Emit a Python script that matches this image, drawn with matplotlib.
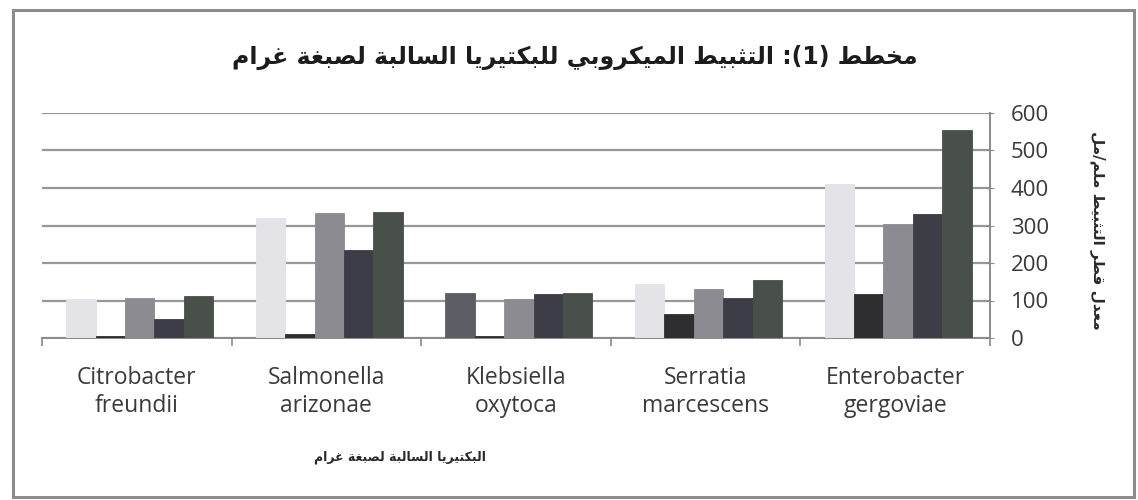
import matplotlib
matplotlib.use("Agg")
import matplotlib.pyplot as plt
import numpy as np
from matplotlib.patches import Rectangle

# ---- data -------------------------------------------------------------
categories = ["Citrobacter\nfreundii", "Salmonella\narizonae", "Klebsiella\noxytoca",
              "Serratia\nmarcescens", "Enterobacter\ngergoviae"]
series_1 = [105, 320, 120, 145, 410]
series_2 = [5, 12, 5, 65, 117]
series_3 = [108, 333, 105, 130, 305]
series_4 = [50, 235, 118, 108, 330]
series_5 = [113, 337, 120, 155, 555]
y_ticks = [0, 100, 200, 300, 400, 500, 600]

title_text = "مخطط (1): التثبيط الميكروبي للبكتيريا السالبة لصبغة غرام"
xlabel_text = "البكتيريا السالبة لصبغة غرام"
ylabel_text = "معدل قطر التثبيط ملم/مل"

# ---- minimal Arabic shaping (presentation forms) -----------------------
# letter: (isolated, final, initial, medial); None means the form does not exist
_F = {
    "ا": (0xFE8D, 0xFE8E, None, None), "أ": (0xFE83, 0xFE84, None, None),
    "إ": (0xFE87, 0xFE88, None, None), "آ": (0xFE81, 0xFE82, None, None),
    "ب": (0xFE8F, 0xFE90, 0xFE91, 0xFE92), "ة": (0xFE93, 0xFE94, None, None),
    "ت": (0xFE95, 0xFE96, 0xFE97, 0xFE98), "ث": (0xFE99, 0xFE9A, 0xFE9B, 0xFE9C),
    "ج": (0xFE9D, 0xFE9E, 0xFE9F, 0xFEA0), "ح": (0xFEA1, 0xFEA2, 0xFEA3, 0xFEA4),
    "خ": (0xFEA5, 0xFEA6, 0xFEA7, 0xFEA8), "د": (0xFEA9, 0xFEAA, None, None),
    "ذ": (0xFEAB, 0xFEAC, None, None), "ر": (0xFEAD, 0xFEAE, None, None),
    "ز": (0xFEAF, 0xFEB0, None, None), "س": (0xFEB1, 0xFEB2, 0xFEB3, 0xFEB4),
    "ش": (0xFEB5, 0xFEB6, 0xFEB7, 0xFEB8), "ص": (0xFEB9, 0xFEBA, 0xFEBB, 0xFEBC),
    "ض": (0xFEBD, 0xFEBE, 0xFEBF, 0xFEC0), "ط": (0xFEC1, 0xFEC2, 0xFEC3, 0xFEC4),
    "ظ": (0xFEC5, 0xFEC6, 0xFEC7, 0xFEC8), "ع": (0xFEC9, 0xFECA, 0xFECB, 0xFECC),
    "غ": (0xFECD, 0xFECE, 0xFECF, 0xFED0), "ف": (0xFED1, 0xFED2, 0xFED3, 0xFED4),
    "ق": (0xFED5, 0xFED6, 0xFED7, 0xFED8), "ك": (0xFED9, 0xFEDA, 0xFEDB, 0xFEDC),
    "ل": (0xFEDD, 0xFEDE, 0xFEDF, 0xFEE0), "م": (0xFEE1, 0xFEE2, 0xFEE3, 0xFEE4),
    "ن": (0xFEE5, 0xFEE6, 0xFEE7, 0xFEE8), "ه": (0xFEE9, 0xFEEA, 0xFEEB, 0xFEEC),
    "و": (0xFEED, 0xFEEE, None, None), "ى": (0xFEEF, 0xFEF0, None, None),
    "ي": (0xFEF1, 0xFEF2, 0xFEF3, 0xFEF4),
}
_MIRROR = {"(": ")", ")": "(", "[": "]", "]": "["}


def _shape(text):
    out = []
    n = len(text)
    for i, ch in enumerate(text):
        if ch not in _F:
            out.append(ch)
            continue
        iso, fin, ini, med = _F[ch]
        prev = text[i - 1] if i > 0 else None
        nxt = text[i + 1] if i + 1 < n else None
        join_prev = prev in _F and _F[prev][2] is not None
        join_next = ini is not None and nxt in _F
        if join_prev and join_next:
            cp = med
        elif join_prev:
            cp = fin
        elif join_next:
            cp = ini
        else:
            cp = iso
        out.append(chr(cp))
    return "".join(out)


def arabic(text):
    """Shape an Arabic line and lay it out right-to-left for a LTR renderer."""
    shaped = _shape(text)
    return "".join(_MIRROR.get(c, c) for c in reversed(shaped))


# ---- figure -------------------------------------------------------------
plt.rcParams["font.family"] = ["Open Sans", "DejaVu Sans"]
fig = plt.figure(figsize=(11.38, 5.0), dpi=100)
W, H = 1138, 500
ax = fig.add_axes([42 / W, 1 - 338 / H, (990 - 42) / W, (338 - 113) / H])

series = [series_1, series_2, series_3, series_4, series_5]
colors = ["#e3e3e8", "#2e2e31", "#8b8b91", "#3d3d47", "#485049"]
x = np.arange(len(categories))
w = 0.155
for i, (vals, col) in enumerate(zip(series, colors)):
    bars = ax.bar(x + (i - 2) * w + 0.015, vals, width=w, color=col, zorder=3,
                  edgecolor=col, linewidth=0.6)
    if i == 0:
        bars[2].set_facecolor("#5d5d66")
        bars[2].set_edgecolor("#5d5d66")

ax.set_xlim(-0.5, len(categories) - 0.5)
ax.set_ylim(0, 600)
ax.set_yticks(y_ticks)
ax.yaxis.tick_right()
ax.grid(axis="y", color="#979797", linewidth=1.6, zorder=0)
ax.set_axisbelow(True)
for side in ("left", "top"):
    ax.spines[side].set_visible(False)
for side in ("right", "bottom"):
    ax.spines[side].set_color("#8a8a8a")
    ax.spines[side].set_linewidth(1.4)

ax.tick_params(axis="y", length=6, color="#8a8a8a", labelsize=16,
               labelcolor="#3a3a3a", pad=12, direction="inout")
ax.set_xticks(x)
ax.set_xticklabels(categories, fontsize=16.5, color="#3a3a3a", linespacing=1.25)
ax.tick_params(axis="x", length=0, pad=20)
ax.set_xticks(np.arange(-0.5, len(categories)), minor=True)
ax.tick_params(axis="x", which="minor", length=6, color="#8a8a8a", width=1.2)

# titles
fig.text(575 / W, 1 - 58 / H, arabic(title_text), ha="center", va="center",
         fontsize=17, fontweight="bold", family=["DejaVu Sans"], color="#1c1c1c")
fig.text(400 / W, 1 - 457 / H, arabic(xlabel_text), ha="center", va="center",
         fontsize=9, fontweight="bold", family=["DejaVu Sans"], color="#2a2a2a")
fig.text(1098 / W, 1 - 230 / H, arabic(ylabel_text), ha="center", va="center",
         rotation=270, fontsize=11, fontweight="bold", family=["DejaVu Sans"],
         color="#2a2a2a")

# outer frame
fig.patches.append(Rectangle((13 / W, 3 / H), (1134 - 13) / W, (490 - 3) / H,
                             transform=fig.transFigure, fill=False,
                             edgecolor="#8c8c8c", linewidth=2.2))

fig.savefig("out.png", dpi=100, facecolor="white")
